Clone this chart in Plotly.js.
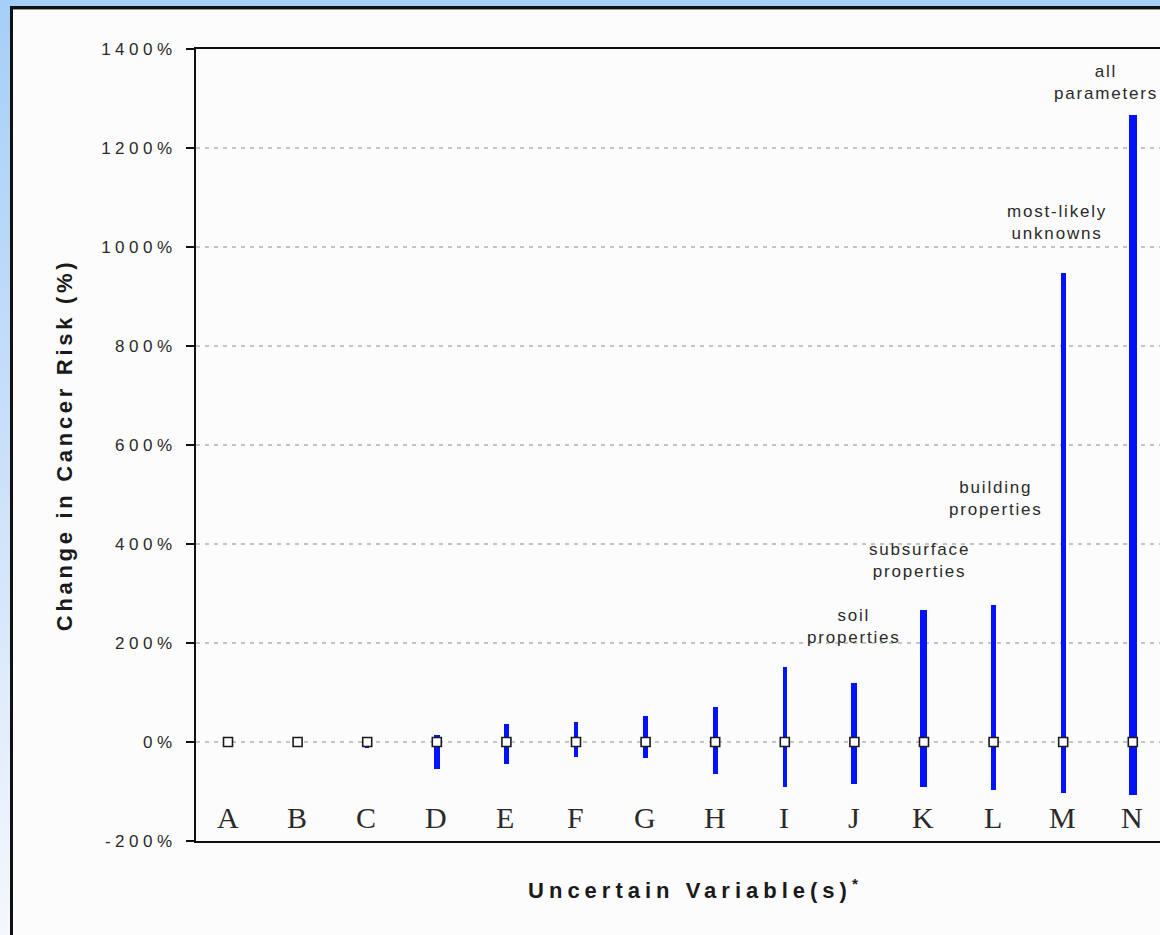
<!DOCTYPE html>
<html>
<head>
<meta charset="utf-8">
<script src="https://cdn.plot.ly/plotly-3.0.1.min.js"></script>
<style>
  html, body { margin:0; padding:0; width:1160px; height:935px; overflow:hidden; }
  body { background: linear-gradient(to bottom, #a6cff7 0%, #cfe3fa 55%, #f4f8fd 100%); position:relative; }
  #frame { position:absolute; left:10px; top:6px; width:1200px; height:960px; background:#fcfcfc;
           border-left:3px solid #111; border-top:3px solid #111; box-shadow: inset 1px 1px 0 #999; }
  #chart { position:absolute; left:0px; top:1px; }
  .ytitle { letter-spacing: 3.7px; }
  .xtitle { letter-spacing: 5px; }
  .ytick text { letter-spacing: 4.5px; }
  .annotation-text { letter-spacing: 1.8px; }
</style>
</head>
<body>
<div id="frame"><div id="chart"></div></div>
<script>
// ---- data ----
const categories = ["A","B","C","D","E","F","G","H","I","J","K","L","M","N"];
const lowValues  = [0, 0, -12, -55, -44, -30, -33, -64, -90, -84, -90, -96, -104, -108];
const highValues = [0, 0, 0, 15, 37, 41, 52, 70, 151, 120, 266, 276, 947, 1267];
const centerValues = [0,0,0,0,0,0,0,0,0,0,0,0,0,0];
const yTickValues = [-200, 0, 200, 400, 600, 800, 1000, 1200, 1400];
const yTickLabels = ["-200%", "0%", "200%", "400%", "600%", "800%", "1000%", "1200%", "1400%"];
const groupLabels = ["soil<br>properties","subsurface<br>properties","building<br>properties","most-likely<br>unknowns","all<br>parameters"];
const groupCategories = ["J","K","L","M","N"];
const groupLabelValues = [188, 321, 446, 1005, 1287];

// ---- styles ----
const barPx = [3, 3, 4, 6, 5, 4, 5, 5, 4, 6, 7, 5, 5, 8];
const labelShift = [0, -4, 2, -6, -27];
const pxPerCat = 69.6;
const xs = categories.map((c, i) => i);

const barTrace = {
  type: 'bar',
  x: xs,
  base: lowValues,
  y: highValues.map((h, i) => h - lowValues[i]),
  width: barPx.map(p => p / pxPerCat),
  marker: { color: '#0412fa', line: { width: 0 } },
  hoverinfo: 'skip',
  showlegend: false
};

const centerTrace = {
  type: 'scatter',
  mode: 'markers',
  x: xs,
  y: centerValues,
  marker: { symbol: 'square', size: 9, color: '#ffffff', line: { color: '#1a1a1a', width: 1.6 } },
  hoverinfo: 'skip',
  showlegend: false
};

const groupAnnotations = groupLabels.map((t, i) => ({
  x: categories.indexOf(groupCategories[i]),
  y: groupLabelValues[i],
  xref: 'x', yref: 'y',
  text: t,
  showarrow: false,
  xanchor: 'center', yanchor: 'bottom',
  xshift: labelShift[i],
  align: 'center',
  font: { family: 'Arial, Liberation Sans, sans-serif', size: 17, color: '#2a2a2a' }
}));

// category letters drawn inside the plot, just above the bottom axis line
const categoryAnnotations = categories.map((c, i) => ({
  x: i, y: 0, xref: 'x', yref: 'paper',
  text: c, showarrow: false,
  xanchor: 'center', yanchor: 'bottom', yshift: 5,
  font: { family: 'Liberation Serif, Times New Roman, serif', size: 30, color: '#2a2a2a' }
}));

const layout = {
  width: 1220,
  height: 960,
  margin: { l: 183, r: 38, t: 39, b: 129 },
  paper_bgcolor: '#fcfcfc',
  plot_bgcolor: '#fcfcfc',
  bargap: 0,
  xaxis: {
    range: [-0.46, 13.894],
    tickmode: 'array',
    tickvals: xs,
    ticktext: categories,
    showticklabels: false,
    ticks: '',
    showgrid: false,
    zeroline: false,
    showline: true, linecolor: '#111', linewidth: 2, mirror: true,
    title: { text: 'Uncertain Variable(s)<sup>*</sup>', standoff: 41,
             font: { family: 'Arial, Liberation Sans, sans-serif', size: 22, color: '#1a1a1a', weight: 'bold' } },
    fixedrange: true
  },
  yaxis: {
    range: [-200, 1400],
    tickmode: 'array',
    tickvals: yTickValues,
    ticktext: yTickLabels,
    ticks: 'outside', ticklen: 8, tickwidth: 2, tickcolor: '#111',
    ticklabelstandoff: 6,
    showgrid: true, gridcolor: '#c4c4c4', gridwidth: 1.5, griddash: '4px,5px',
    zeroline: false,
    showline: true, linecolor: '#111', linewidth: 2, mirror: true,
    tickfont: { family: 'Arial, Liberation Sans, sans-serif', size: 17, color: '#2a2a2a' },
    title: { text: 'Change in Cancer Risk (%)', standoff: 22,
             font: { family: 'Arial, Liberation Sans, sans-serif', size: 22, color: '#1a1a1a', weight: 'bold' } },
    fixedrange: true
  },
  annotations: groupAnnotations.concat(categoryAnnotations)
};

Plotly.newPlot('chart', [barTrace, centerTrace], layout, { displayModeBar: false, staticPlot: true });
</script>
</body>
</html>
